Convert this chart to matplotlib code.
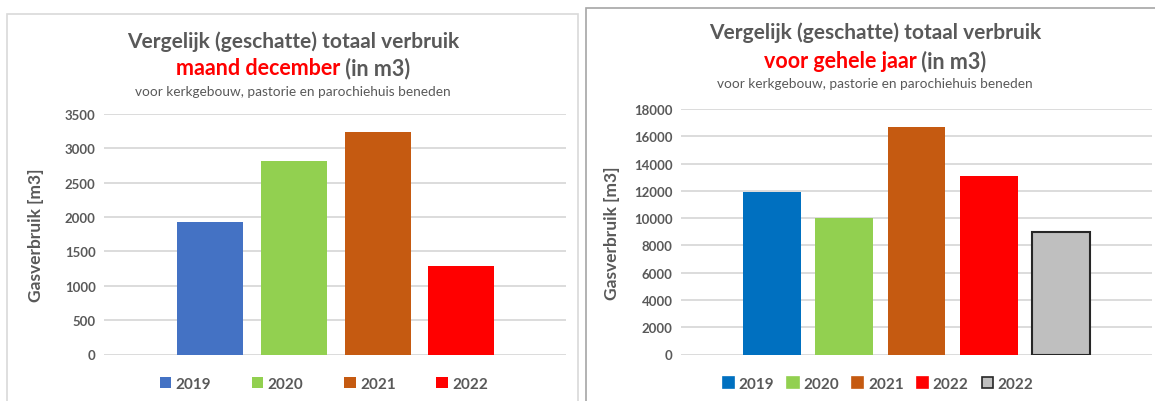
import matplotlib
matplotlib.use("Agg")
import matplotlib.pyplot as plt
from matplotlib.patches import Rectangle, Patch

plt.rcParams['font.family'] = ['Lato', 'DejaVu Sans']

# december values (m3)
dec_years = ["2019", "2020", "2021", "2022"]
dec_values = [1925, 2815, 3235, 1285]
dec_colors = ["#4472C4", "#92D050", "#C55A11", "#FF0000"]

# whole year values (m3)
year_labels = ["2019", "2020", "2021", "2022", "2022"]
year_values = [11900, 10000, 16680, 13080, 8980]
year_colors = ["#0070C0", "#92D050", "#C55A11", "#FF0000", "#BFBFBF"]
year_edges = ["none", "none", "none", "none", "#262626"]

GRAY = "#595959"
W, H = 1155, 402

fig = plt.figure(figsize=(W / 100, H / 100), dpi=100)
fig.patch.set_facecolor("white")

# panel frames
fig.add_artist(Rectangle((6.7 / W, -0.1), (578 - 6.7) / W, 1.1 - 15 / H,
                         transform=fig.transFigure, fill=False, ec="#D9D9D9", lw=1.2))
fig.add_artist(Rectangle((585.5 / W, -0.1), 0.6, 1.1 - 9 / H,
                         transform=fig.transFigure, fill=False, ec="#A6A6A6", lw=1.2))


def style_axes(ax, ymax, step):
    ax.set_ylim(0, ymax)
    ax.set_yticks(range(0, ymax + 1, step))
    ax.grid(axis="y", color="#D9D9D9", lw=1.3)
    ax.set_axisbelow(True)
    for s in ax.spines.values():
        s.set_visible(False)
    ax.set_xticks([])
    ax.tick_params(axis="y", length=0, pad=6, labelsize=9.5, labelcolor=GRAY)
    for lab in ax.get_yticklabels():
        lab.set_fontweight("bold")
    ax.set_ylabel("Gasverbruik [m3]", fontsize=12.5, fontweight="bold", color=GRAY)


def title_block(cx, y1, y2, y3, red_part):
    fig.text(cx / W, 1 - y1 / H, "Vergelijk (geschatte) totaal verbruik", ha="center", va="center",
             fontsize=15, fontweight="bold", color=GRAY)
    r = fig.canvas.get_renderer()
    t1 = fig.text(0, 1 - y2 / H, red_part, ha="left", va="center", fontsize=15.5,
                  fontweight="bold", color="#FF0000")
    t2 = fig.text(0, 1 - y2 / H, " (in m3)", ha="left", va="center", fontsize=15.5,
                  fontweight="bold", color=GRAY)
    w1 = t1.get_window_extent(r).width
    w2 = t2.get_window_extent(r).width
    start = cx - (w1 + w2) / 2
    t1.set_x(start / W)
    t2.set_x((start + w1) / W)
    fig.text(cx / W, 1 - y3 / H, "voor kerkgebouw, pastorie en parochiehuis beneden", ha="center",
             va="center", fontsize=9.8, color=GRAY)


# left chart: december
ax1 = fig.add_axes([104 / W, 1 - 355.5 / H, (566 - 104) / W, (355.5 - 115) / H])
x1 = list(range(len(dec_values)))
ax1.bar(x1, dec_values, width=0.79, color=dec_colors)
ax1.set_xlim(-1.27, 4.25)
style_axes(ax1, 3500, 500)
ax1.yaxis.set_label_coords(-(104 - 44) / (566 - 104), 0.5)
title_block(293, 42, 69, 92, "maand december")
h1 = [Patch(facecolor=c, label=l) for c, l in zip(dec_colors, dec_years)]
fig.legend(handles=h1, ncol=4, frameon=False, loc="center", bbox_to_anchor=(324 / W, 1 - 385 / H),
           prop={"weight": "bold", "size": 11}, labelcolor=GRAY, handlelength=0.75, handleheight=0.75,
           handletextpad=0.3, columnspacing=2.65)

# right chart: whole year
ax2 = fig.add_axes([681 / W, 1 - 355.5 / H, (1152 - 681) / W, (355.5 - 110) / H])
x2 = list(range(len(year_values)))
ax2.bar(x2, year_values, width=0.8, color=year_colors, edgecolor=year_edges, linewidth=1.5)
ax2.set_xlim(-1.26, 5.26)
style_axes(ax2, 18000, 2000)
ax2.yaxis.set_label_coords(-(681 - 620) / (1152 - 681), 0.5)
title_block(875, 33, 62, 84, "voor gehele jaar")
h2 = [Patch(facecolor=c, edgecolor=("#262626" if e != "none" else c), lw=1.2, label=l)
      for c, e, l in zip(year_colors, year_edges, year_labels)]
fig.legend(handles=h2, ncol=5, frameon=False, loc="center", bbox_to_anchor=(878 / W, 1 - 385 / H),
           prop={"weight": "bold", "size": 11}, labelcolor=GRAY, handlelength=0.75, handleheight=0.75,
           handletextpad=0.3, columnspacing=0.85)

fig.savefig("out.png", dpi=100)
